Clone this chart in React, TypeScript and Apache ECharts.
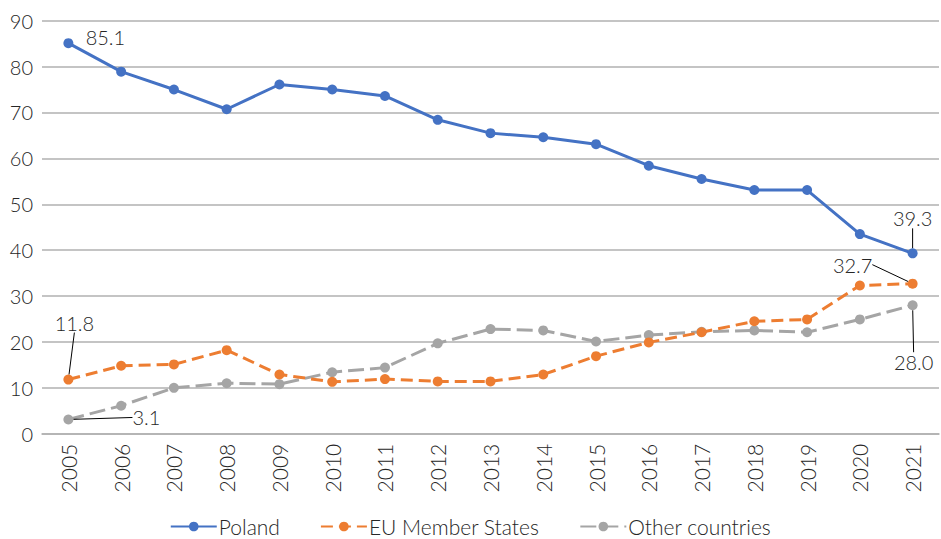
import React, { useEffect, useRef } from "react";
import * as echarts from "echarts";

const years = ["2005","2006","2007","2008","2009","2010","2011","2012","2013","2014","2015","2016","2017","2018","2019","2020","2021"];
const poland = [85.1, 78.9, 75.0, 70.7, 76.1, 75.0, 73.6, 68.4, 65.5, 64.6, 63.1, 58.4, 55.5, 53.1, 53.1, 43.5, 39.3];
const euStates = [11.8, 14.8, 15.1, 18.2, 12.9, 11.3, 11.9, 11.4, 11.4, 12.9, 16.9, 19.9, 22.1, 24.5, 24.9, 32.3, 32.7];
const otherCountries = [3.1, 6.1, 10.0, 11.0, 10.8, 13.4, 14.4, 19.7, 22.8, 22.5, 20.1, 21.5, 22.2, 22.5, 22.1, 24.9, 28.0];
const seriesNames = ["Poland", "EU Member States", "Other countries"];
const yTicks = { min: 0, max: 90, interval: 10 };

// label placement (offset of label centre from the point), per series: [dataIndex, dx, dy, leaderLine]
const labelSpots: [number, number, number, boolean][][] = [
  [[0, 37, -6, false], [16, 0, -35, true]],
  [[0, 6, -57, true], [16, -60, -19, true]],
  [[0, 78, -2, true], [16, 1, 57, true]],
];

const FONT = "Lato, 'Open Sans', sans-serif";
const TXT = "#262626";
const FS = 20;

export default function App() {
  const ref = useRef<HTMLDivElement>(null);
  useEffect(() => {
    if (!ref.current) return;
    const chart = echarts.init(ref.current, undefined, { renderer: "svg" });
    const colors = ["#4472C4", "#ED7D31", "#A5A5A5"];
    const dashes: any[] = ["solid", [12, 6], [16, 6]];
    const all = [poland, euStates, otherCountries];
    const series = all.map((vals, si) => ({
      name: seriesNames[si],
      type: "line",
      data: vals.map((v, i) => {
        const spot = labelSpots[si].find((s) => s[0] === i);
        if (!spot) return v;
        return { value: v, label: { show: true }, labelLine: { show: spot[3] } };
      }),
      symbol: "circle",
      symbolSize: 10,
      z: 10 - si,
      itemStyle: { color: colors[si] },
      lineStyle: { color: colors[si], width: 3, type: dashes[si] },
      label: {
        show: false,
        fontSize: FS,
        fontWeight: 300,
        fontFamily: FONT,
        color: TXT,
        formatter: (p: any) => Number(p.value).toFixed(1),
      },
      labelLine: { show: true, lineStyle: { color: "#000", width: 1 } },
      labelLayout: (params: any) => {
        const spot = labelSpots[si].find((s) => s[0] === params.dataIndex);
        if (!spot) return {};
        const cx = params.rect.x + params.rect.width / 2;
        const cy = params.rect.y + params.rect.height / 2;
        return { x: cx + spot[1], y: cy + spot[2], align: "center", verticalAlign: "middle" };
      },
    }));

    chart.setOption({
      animation: false,
      color: colors,
      grid: { left: 42, right: 2, top: 20.7, bottom: 105.3, containLabel: false },
      legend: {
        bottom: -3,
        left: "center",
        itemWidth: 46,
        itemHeight: 12,
        itemGap: 40,
        textStyle: { fontSize: 21, fontWeight: 300, fontFamily: FONT, color: TXT, padding: [0, 0, 0, -3] },
        data: seriesNames,
      },
      xAxis: {
        type: "category",
        data: years,
        boundaryGap: true,
        axisTick: { show: false },
        axisLine: { lineStyle: { color: "#B0B0B0", width: 1.5 } },
        axisLabel: { rotate: 90, margin: 10, fontSize: 21, fontWeight: 300, fontFamily: FONT, color: TXT },
      },
      yAxis: {
        type: "value",
        min: yTicks.min,
        max: yTicks.max,
        interval: yTicks.interval,
        axisLine: { show: false },
        axisTick: { show: false },
        axisLabel: { margin: 9, fontSize: FS, fontWeight: 300, fontFamily: FONT, color: TXT },
        splitLine: { lineStyle: { color: "#B0B0B0", width: 1.5 } },
      },
      series,
    });
    return () => chart.dispose();
  }, []);
  return (
    <div
      ref={ref}
      style={{ position: "fixed", left: 0, top: 0, width: 941, height: 539, background: "#fff" }}
    />
  );
}
